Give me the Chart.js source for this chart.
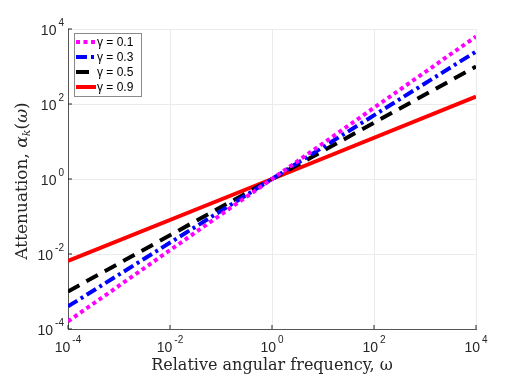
<!DOCTYPE html>
<html>
<head>
<meta charset="utf-8">
<script src="https://cdn.jsdelivr.net/npm/chart.js@4"></script>
<style>
  html, body { margin: 0; padding: 0; background: #fff; }
  #wrap { width: 526px; height: 377px; }
</style>
</head>
<body>
<div id="wrap"><canvas id="attChart" width="526" height="377"></canvas></div>
<script>
// data (straight lines on log-log axes)
const omega = [1e-4, 1, 1e4];
const seriesNames = ['γ = 0.1', 'γ = 0.3', 'γ = 0.5', 'γ = 0.9'];
const att01 = [1.6e-4, 1, 6300];
const att03 = [4.0e-4, 1, 2500];
const att05 = [1.0e-3, 1, 1000];
const att09 = [6.5e-3, 1, 158];
const logTicks = [1e-4, 1e-2, 1, 1e2, 1e4];

const colors = ['#ff00ff', '#0000ff', '#000000', '#ff0000'];
const dashes = [[4, 3.5], [11, 4, 3, 4], [13, 8], []];
const allSeries = [att01, att03, att05, att09];

const datasets = allSeries.map((vals, i) => ({
    label: seriesNames[i],
    data: omega.map((w, j) => ({ x: w, y: vals[j] })),
    borderColor: colors[i],
    backgroundColor: colors[i],
    borderWidth: 4,
    borderDash: dashes[i],
    borderCapStyle: 'butt',
    pointRadius: 0,
    tension: 0
}));

const PLOT = { left: 68, right: 476, top: 29, bottom: 329 };
const SANS = '"Liberation Sans", Arial, sans-serif';
const SERIF = '"DejaVu Serif", "Liberation Serif", serif';

// tick labels as 10 with a raised exponent, plus inward tick marks
const decadeLabels = {
    id: 'decadeLabels',
    afterDraw(chart) {
        const c = chart.ctx;
        const xs = chart.scales.x, ys = chart.scales.y;
        const a = chart.chartArea;
        c.save();
        c.fillStyle = '#262626';
        c.strokeStyle = '#262626';
        c.lineWidth = 1;
        c.textBaseline = 'alphabetic';
        c.textAlign = 'left';
        logTicks.forEach(v => {
            const e = Math.round(Math.log10(v));
            const base = '10', exp = String(e);
            c.font = '14px ' + SANS;
            const bw = c.measureText(base).width;
            c.font = '10px ' + SANS;
            const ew = c.measureText(exp).width;
            // x axis
            const px = xs.getPixelForValue(v);
            c.beginPath(); c.moveTo(px, a.bottom); c.lineTo(px, a.bottom - 4); c.stroke();
            const x0 = px - (bw + 2 + ew) / 2;
            c.font = '14px ' + SANS;
            c.fillText(base, x0, a.bottom + 23);
            c.font = '10px ' + SANS;
            c.fillText(exp, x0 + bw + 2, a.bottom + 14);
            // y axis
            const py = ys.getPixelForValue(v);
            c.beginPath(); c.moveTo(a.left, py); c.lineTo(a.left + 4, py); c.stroke();
            const right = a.left - 4;
            c.font = '10px ' + SANS;
            c.fillText(exp, right - ew, py - 3);
            c.font = '14px ' + SANS;
            c.fillText(base, right - ew - 2 - bw, py + 6);
        });
        c.restore();
    }
};

// rotated y title with a subscript k
const yTitle = {
    id: 'yTitle',
    afterDraw(chart) {
        const c = chart.ctx;
        const a = chart.chartArea;
        const parts = [
            { t: 'Attenuation, ', f: '17px ' + SERIF, dy: 0 },
            { t: 'α', f: 'italic 17px ' + SERIF, dy: 0 },
            { t: 'k', f: 'italic 11px ' + SERIF, dy: 3 },
            { t: '(', f: '17px ' + SERIF, dy: 0 },
            { t: 'ω', f: 'italic 17px ' + SERIF, dy: 0 },
            { t: ')', f: '17px ' + SERIF, dy: 0 }
        ];
        c.save();
        let total = 0;
        parts.forEach(p => { c.font = p.f; p.w = c.measureText(p.t).width; total += p.w; });
        c.translate(27, (a.top + a.bottom) / 2 + 2);
        c.rotate(-Math.PI / 2);
        c.fillStyle = '#262626';
        c.textBaseline = 'alphabetic';
        c.textAlign = 'left';
        let x = -total / 2;
        parts.forEach(p => { c.font = p.f; c.fillText(p.t, x, p.dy); x += p.w; });
        c.restore();
    }
};

// legend box inside the plot, top left
const insideLegend = {
    id: 'insideLegend',
    afterDraw(chart) {
        const c = chart.ctx;
        const a = chart.chartArea;
        const bx = a.left + 6, by = a.top + 4, bw = 67, bh = 63;
        c.save();
        c.fillStyle = '#ffffff';
        c.fillRect(bx, by, bw, bh);
        c.strokeStyle = '#8a8a8a';
        c.lineWidth = 1;
        c.strokeRect(bx + 0.5, by + 0.5, bw, bh);
        chart.data.datasets.forEach((ds, i) => {
            const y = by + 9 + i * 15;
            c.beginPath();
            c.setLineDash(ds.borderDash.length ? ds.borderDash : []);
            c.lineCap = 'butt';
            c.strokeStyle = ds.borderColor;
            c.lineWidth = 4;
            c.moveTo(bx + 2, y);
            c.lineTo(bx + 22, y);
            c.stroke();
            c.setLineDash([]);
            c.fillStyle = '#000';
            c.font = '12px ' + SANS;
            c.textAlign = 'left';
            c.textBaseline = 'middle';
            c.fillText(ds.label, bx + 23, y + 1);
        });
        c.restore();
    }
};

const ctx = document.getElementById('attChart').getContext('2d');
const chart = new Chart(ctx, {
    type: 'line',
    data: { datasets },
    options: {
        responsive: false,
        animation: false,
        layout: { padding: { top: PLOT.top, right: 526 - PLOT.right, left: 0, bottom: 0 } },
        plugins: { legend: { display: false }, tooltip: { enabled: false } },
        scales: {
            x: {
                type: 'logarithmic',
                min: 1e-4,
                max: 1e4,
                afterBuildTicks: s => { s.ticks = logTicks.map(v => ({ value: v })); },
                afterFit: s => { s.height = 377 - PLOT.bottom; },
                ticks: { display: false },
                grid: { color: '#ebebeb', lineWidth: 1, drawTicks: false },
                border: { color: '#555555', width: 1 },
                title: {
                    display: true,
                    text: 'Relative angular frequency, ω',
                    font: { family: SERIF, size: 16 },
                    color: '#262626',
                    padding: { top: 0, bottom: 2 },
                    align: 'center'
                }
            },
            y: {
                type: 'logarithmic',
                min: 1e-4,
                max: 1e4,
                afterBuildTicks: s => { s.ticks = logTicks.map(v => ({ value: v })); },
                afterFit: s => { s.width = PLOT.left; },
                ticks: { display: false },
                grid: { color: '#ebebeb', lineWidth: 1, drawTicks: false },
                border: { color: '#555555', width: 1 }
            }
        }
    },
    plugins: [decadeLabels, yTitle, insideLegend]
});
</script>
</body>
</html>
